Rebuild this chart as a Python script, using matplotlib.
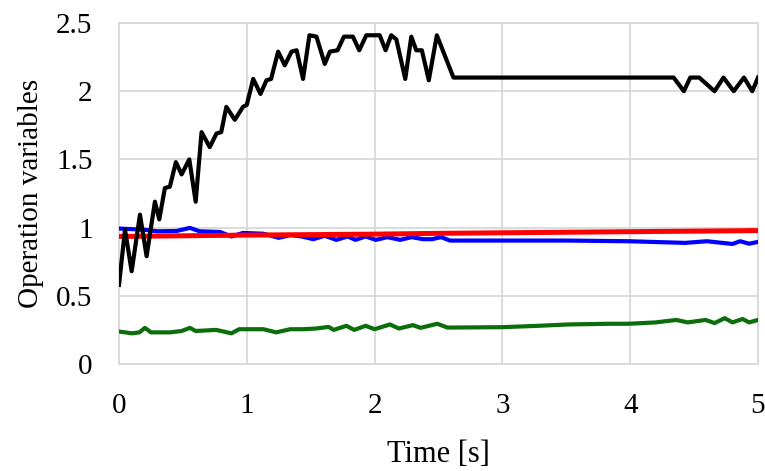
import matplotlib
matplotlib.use("Agg")
import matplotlib.pyplot as plt

plt.rcParams['font.family'] = ['Liberation Serif', 'DejaVu Serif']

# Black series (operation variable 1)
black_t = [0.0, 0.047, 0.099, 0.164, 0.216, 0.281, 0.315, 0.359, 0.398, 0.445,
           0.49, 0.55, 0.60, 0.646, 0.71, 0.763, 0.80, 0.84, 0.906, 0.97,
           1.00, 1.05, 1.107, 1.154, 1.19, 1.245, 1.297, 1.35, 1.39, 1.44,
           1.49, 1.545, 1.61, 1.65, 1.71, 1.76, 1.83, 1.88, 1.935, 2.04,
           2.086, 2.13, 2.17, 2.24, 2.287, 2.326, 2.37, 2.424, 2.487, 2.617,
           4.34, 4.42, 4.47, 4.54, 4.66, 4.73, 4.81, 4.89, 4.955, 5.0]
black_v = [0.58, 0.985, 0.68, 1.095, 0.79, 1.19, 1.06, 1.29, 1.30, 1.48,
           1.39, 1.50, 1.19, 1.70, 1.59, 1.69, 1.70, 1.885, 1.79, 1.885,
           1.90, 2.09, 1.98, 2.08, 2.09, 2.29, 2.19, 2.29, 2.30, 2.09,
           2.41, 2.40, 2.20, 2.29, 2.30, 2.40, 2.40, 2.30, 2.41, 2.41,
           2.30, 2.41, 2.38, 2.09, 2.40, 2.30, 2.30, 2.08, 2.41, 2.10,
           2.10, 2.00, 2.10, 2.10, 2.00, 2.10, 2.00, 2.10, 2.00, 2.10]

# Blue series
blue_t = [0.0, 0.19, 0.30, 0.45, 0.555, 0.63, 0.79, 0.88, 0.97, 1.13,
          1.25, 1.34, 1.43, 1.52, 1.61, 1.70, 1.79, 1.85, 1.93, 2.01,
          2.10, 2.20, 2.29, 2.38, 2.45, 2.52, 2.59, 3.0, 3.5, 3.99,
          4.43, 4.6, 4.8, 4.86, 4.93, 5.0]
blue_v = [0.993, 0.985, 0.973, 0.975, 0.998, 0.973, 0.968, 0.935, 0.961, 0.955,
          0.925, 0.945, 0.935, 0.915, 0.94, 0.91, 0.935, 0.91, 0.935, 0.91,
          0.93, 0.91, 0.93, 0.915, 0.915, 0.93, 0.905, 0.905, 0.905, 0.90,
          0.888, 0.90, 0.88, 0.90, 0.882, 0.895]

# Red series
red_t = [0.0, 1.0, 2.0, 2.5, 3.0, 4.0, 5.0]
red_v = [0.935, 0.945, 0.952, 0.958, 0.962, 0.97, 0.978]

# Green series
green_t = [0.0, 0.1, 0.16, 0.203, 0.25, 0.40, 0.49, 0.555, 0.60, 0.76,
           0.88, 0.94, 1.13, 1.23, 1.34, 1.44, 1.54, 1.64, 1.68, 1.78,
           1.84, 1.93, 2.00, 2.12, 2.19, 2.30, 2.36, 2.49, 2.57, 3.0,
           3.28, 3.52, 3.84, 3.99, 4.2, 4.36, 4.45, 4.59, 4.66, 4.74,
           4.8, 4.88, 4.93, 5.0]
green_v = [0.238, 0.225, 0.232, 0.265, 0.232, 0.232, 0.242, 0.265, 0.242, 0.25,
           0.225, 0.255, 0.255, 0.232, 0.255, 0.255, 0.26, 0.272, 0.25, 0.28,
           0.25, 0.28, 0.255, 0.29, 0.26, 0.285, 0.265, 0.295, 0.267, 0.27,
           0.28, 0.29, 0.295, 0.295, 0.305, 0.323, 0.305, 0.323, 0.30, 0.336,
           0.305, 0.33, 0.305, 0.323]

x_ticks = [0, 1, 2, 3, 4, 5]
y_ticks = [0, 0.5, 1, 1.5, 2, 2.5]
y_tick_labels = ['0', '0.5', '1', '1.5', '2', '2.5']

fig = plt.figure(figsize=(7.65, 4.71), dpi=100)
ax = fig.add_axes([119/765, 1-364/471, (758-119)/765, (364-23)/471])

grid_col = '#d9d9d9'
ax.plot(green_t, green_v, color='#0b6e0b', lw=3.0, solid_joinstyle='round', zorder=3)
ax.plot(blue_t, blue_v, color='#0000ff', lw=3.0, solid_joinstyle='round', zorder=4)
ax.plot(red_t, red_v, color='#ff0000', lw=3.6, solid_joinstyle='round', zorder=5)
ax.plot(black_t, black_v, color='#000000', lw=3.0, solid_joinstyle='round', zorder=6)

ax.set_xlim(0, 5)
ax.set_ylim(0, 2.5)
ax.set_xticks(x_ticks)
ax.set_xticklabels([str(t) for t in x_ticks])
ax.set_yticks(y_ticks)
ax.set_yticklabels(y_tick_labels)
ax.grid(True, color=grid_col, lw=1.3, zorder=0)
ax.set_axisbelow(True)
for s in ax.spines.values():
    s.set_color(grid_col)
    s.set_linewidth(1.3)
ax.tick_params(length=0, labelsize=21, pad=19)
ax.tick_params(axis='x', pad=21)

ax.set_xlabel('Time [s]', fontsize=22, labelpad=15)
ax.set_ylabel('Operation variables', fontsize=21, labelpad=9)

fig.savefig('out.png', dpi=100)
